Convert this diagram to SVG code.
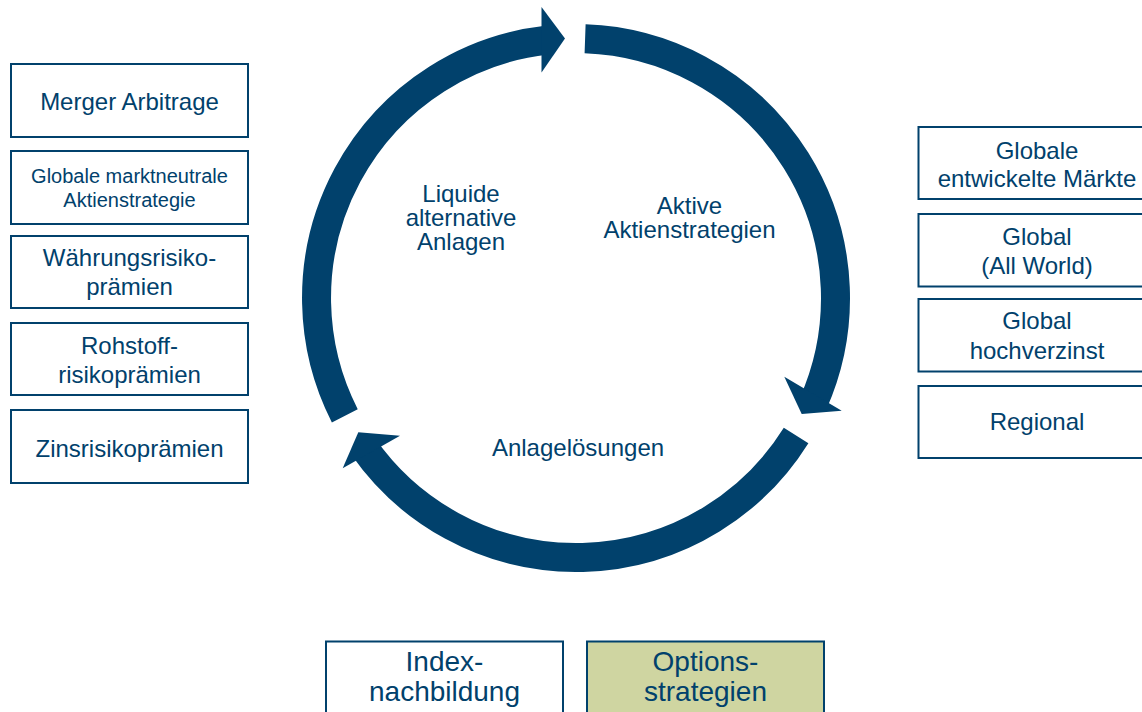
<svg xmlns="http://www.w3.org/2000/svg" width="1142" height="712" viewBox="0 0 1142 712">
<style>
  .arc{fill:none;stroke:#01416c;stroke-width:29;stroke-linecap:butt}
  .head{fill:#01416c}
  .box{fill:#ffffff;stroke:#01416c;stroke-width:2}
  .hl{fill:#cfd5a1}
  text{font-family:"Liberation Sans",Arial,sans-serif;fill:#01416c;text-anchor:middle}
  .t24{font-size:24px}
  .t20{font-size:20px}
  .t28{font-size:28px}
</style>
<rect width="1142" height="712" fill="#ffffff"/>
<g id="connectors">
  <path class="arc" d="M344.8,415.8 A259.5,259.5 0 0 1 546.6,40.2"/>
  <polygon class="head" points="541.5,7 565,38.5 541.5,72.5"/>
  <path class="arc" d="M585.1,38.7 A259.5,259.5 0 0 1 813.1,403.5"/>
  <polygon class="head" points="784.3,376.7 841.7,410.7 801.7,414"/>
  <path class="arc" d="M796.1,435.5 A259.5,259.5 0 0 1 363.4,446.8"/>
  <polygon class="head" points="400,435.7 342.7,468.3 358.3,432.3"/>
</g>
<g id="label-liquide">
  <text class="t24" x="461" y="202">Liquide</text>
  <text class="t24" x="461" y="226">alternative</text>
  <text class="t24" x="461" y="250">Anlagen</text>
</g>
<g id="label-aktive">
  <text class="t24" x="689.5" y="213.5">Aktive</text>
  <text class="t24" x="689.5" y="237.5">Aktienstrategien</text>
</g>
<g id="label-anlageloesungen">
  <text class="t24" x="578" y="455.7">Anlagelösungen</text>
</g>
<g id="box-merger">
  <rect class="box" x="11" y="64" width="237" height="73"/>
  <text class="t24" x="129.5" y="110">Merger Arbitrage</text>
</g>
<g id="box-marktneutral">
  <rect class="box" x="11" y="151" width="237" height="73"/>
  <text class="t20" x="129.5" y="182.5">Globale marktneutrale</text>
  <text class="t20" x="129.5" y="206.5">Aktienstrategie</text>
</g>
<g id="box-waehrung">
  <rect class="box" x="11" y="236" width="237" height="72"/>
  <text class="t24" x="129.5" y="266">Währungsrisiko-</text>
  <text class="t24" x="129.5" y="295">prämien</text>
</g>
<g id="box-rohstoff">
  <rect class="box" x="11" y="323" width="237" height="72"/>
  <text class="t24" x="129.5" y="353.5">Rohstoff-</text>
  <text class="t24" x="129.5" y="383">risikoprämien</text>
</g>
<g id="box-zins">
  <rect class="box" x="11" y="410" width="237" height="73"/>
  <text class="t24" x="129.5" y="456.5">Zinsrisikoprämien</text>
</g>
<g id="box-entwickelt">
  <rect class="box" x="918.5" y="127" width="238" height="72"/>
  <text class="t24" x="1037" y="158.5">Globale</text>
  <text class="t24" x="1037" y="187">entwickelte Märkte</text>
</g>
<g id="box-allworld">
  <rect class="box" x="918.5" y="214" width="238" height="72.5"/>
  <text class="t24" x="1037" y="244.5">Global</text>
  <text class="t24" x="1037" y="273.5">(All World)</text>
</g>
<g id="box-hochverzinst">
  <rect class="box" x="918.5" y="299" width="238" height="72.5"/>
  <text class="t24" x="1037" y="329">Global</text>
  <text class="t24" x="1037" y="358.5">hochverzinst</text>
</g>
<g id="box-regional">
  <rect class="box" x="918.5" y="386" width="238" height="72"/>
  <text class="t24" x="1037" y="430">Regional</text>
</g>
<g id="box-index">
  <rect class="box" x="326" y="641.5" width="237" height="90"/>
  <text class="t28" x="444.5" y="671">Index-</text>
  <text class="t28" x="444.5" y="701">nachbildung</text>
</g>
<g id="box-options">
  <rect class="box hl" x="587" y="641.5" width="237" height="90"/>
  <text class="t28" x="705.5" y="671">Options-</text>
  <text class="t28" x="705.5" y="701">strategien</text>
</g>
</svg>
